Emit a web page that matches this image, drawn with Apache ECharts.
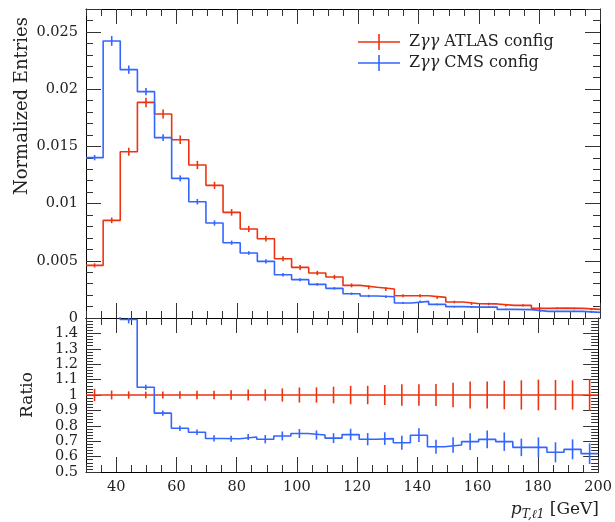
<!DOCTYPE html>
<html>
<head>
<meta charset="utf-8">
<title>pT l1</title>
<script src="https://cdn.jsdelivr.net/npm/echarts@6/dist/echarts.min.js"></script>
<style>
  html, body { margin: 0; padding: 0; background: #fff; }
  #main { width: 615px; height: 522px; }
</style>
</head>
<body>
<div id="main"></div>
<script>
// bin edges (30 bins, 30..200 GeV)
var binEdges = [30, 35.67, 41.33, 47, 52.67, 58.33, 64, 69.67, 75.33, 81, 86.67, 92.33, 98, 103.67, 109.33,
  115, 120.67, 126.33, 132, 137.67, 143.33, 149, 154.67, 160.33, 166, 171.67, 177.33, 183, 188.67, 194.33, 200];

// normalized entries per bin
var atlas = [0.0046, 0.00853, 0.01453, 0.01884, 0.01783, 0.01558, 0.01337, 0.01159, 0.00923, 0.00778,
  0.00693, 0.00518, 0.00442, 0.00393, 0.00358, 0.00285, 0.00268, 0.00253, 0.00195, 0.00195,
  0.0018, 0.0014, 0.00125, 0.00123, 0.0011, 0.0011, 0.00084, 0.00086, 0.00084, 0.00075];
var cms = [0.01401, 0.02421, 0.0217, 0.01978, 0.01576, 0.0122, 0.01016, 0.0083, 0.00658, 0.00568,
  0.00495, 0.00378, 0.00335, 0.00294, 0.00259, 0.00212, 0.00192, 0.00186, 0.00131, 0.00145,
  0.00119, 0.00099, 0.00095, 0.00095, 0.00075, 0.00073, 0.00058, 0.00058, 0.00058, 0.00049];

// ratio panel (reference = ATLAS)
var ratioAtlas = [1, 1, 1, 1, 1, 1, 1, 1, 1, 1, 1, 1, 1, 1, 1, 1, 1, 1, 1, 1, 1, 1, 1, 1, 1, 1, 1, 1, 1, 1];
var ratioAtlasErr = [0.04, 0.029, 0.024, 0.022, 0.022, 0.024, 0.027, 0.027, 0.031, 0.035,
  0.037, 0.043, 0.049, 0.05, 0.054, 0.06, 0.06, 0.065, 0.069, 0.069,
  0.072, 0.08, 0.087, 0.087, 0.093, 0.095, 0.1, 0.097, 0.095, 0.103];
var ratioCms = [3.04, 2.84, 1.49, 1.05, 0.882, 0.784, 0.758, 0.718, 0.716, 0.727,
  0.713, 0.734, 0.75, 0.74, 0.72, 0.743, 0.713, 0.717, 0.69, 0.739,
  0.664, 0.675, 0.697, 0.712, 0.697, 0.66, 0.66, 0.628, 0.647, 0.619];
var ratioCmsErr = [0.05, 0.05, 0.025, 0.017, 0.017, 0.017, 0.018, 0.02, 0.02, 0.02,
  0.027, 0.029, 0.029, 0.03, 0.032, 0.038, 0.04, 0.041, 0.046, 0.045,
  0.045, 0.05, 0.054, 0.057, 0.06, 0.057, 0.065, 0.065, 0.065, 0.067];

// tick labels
var xMajor = [40, 60, 80, 100, 120, 140, 160, 180, 200];
var yTopLabels = [0.005, 0.01, 0.015, 0.02, 0.025];
var yRatioLabels = [0.6, 0.7, 0.8, 0.9, 1, 1.1, 1.2, 1.3, 1.4];
// lowest label of each panel sits on the panel's bottom edge, echarts 6 drops it there,
// so it is placed by hand below at the pixel the axis gives for it
var yTopMin = 0, yRatioMin = 0.5;

var RED = '#EE3311', BLUE = '#3366FF';
var FONT = 'DejaVu Serif';
var TICK = '#333';
var LABEL = { fontFamily: FONT, fontSize: 14.5, color: '#222', margin: 8 };

var myChart = echarts.init(document.getElementById('main'));

function stepData(vals) {
  var d = vals.map(function (v, i) { return [binEdges[i], v]; });
  d.push([binEdges[binEdges.length - 1], vals[vals.length - 1]]);
  return d;
}

function stepLine(name, xi, yi, vals, color) {
  return {
    name: name, type: 'line', step: 'end', xAxisIndex: xi, yAxisIndex: yi,
    data: stepData(vals), showSymbol: false, symbol: 'none', clip: true, silent: true,
    color: color, itemStyle: { color: color },
    lineStyle: { color: color, width: 1.6 }
  };
}

function errBars(name, xi, yi, vals, errs, color) {
  return {
    name: name, type: 'custom', xAxisIndex: xi, yAxisIndex: yi, clip: true, silent: true,
    encode: { x: 0, y: 1 },
    data: vals.map(function (v, i) { return [(binEdges[i] + binEdges[i + 1]) / 2, v, errs[i]]; }),
    renderItem: function (params, api) {
      var lo = api.coord([api.value(0), api.value(1) - api.value(2)]);
      var hi = api.coord([api.value(0), api.value(1) + api.value(2)]);
      return {
        type: 'line',
        shape: { x1: lo[0], y1: lo[1], x2: hi[0], y2: hi[1] },
        style: { stroke: color, lineWidth: 1.6 }
      };
    }
  };
}

// x axes: bottom major, bottom minor, top major, top minor
function xAxesFor(gi, withLabels) {
  var base = { gridIndex: gi, type: 'value', min: 30, max: 200, splitLine: { show: false } };
  var line = { show: true, onZero: false, lineStyle: { color: '#000', width: 1 } };
  return [
    Object.assign({}, base, {
      position: 'bottom', axisLine: line,
      axisTick: { inside: true, length: 15, customValues: xMajor, lineStyle: { color: TICK } },
      axisLabel: withLabels ? Object.assign({ customValues: xMajor }, LABEL) : { show: false }
    }),
    Object.assign({}, base, {
      position: 'bottom', interval: 5, axisLine: { show: false, onZero: false },
      axisTick: { inside: true, length: 7, lineStyle: { color: TICK } }, axisLabel: { show: false }
    }),
    Object.assign({}, base, {
      position: 'top', axisLine: line,
      axisTick: { inside: true, length: 15, customValues: xMajor, lineStyle: { color: TICK } }, axisLabel: { show: false }
    }),
    Object.assign({}, base, {
      position: 'top', interval: 5, axisLine: { show: false, onZero: false },
      axisTick: { inside: true, length: 7, lineStyle: { color: TICK } }, axisLabel: { show: false }
    })
  ];
}

// y axes: left major, left minor, right major, right minor
function yAxesFor(gi, min, max, major, minor, labels) {
  var base = { gridIndex: gi, type: 'value', min: min, max: max, splitLine: { show: false } };
  var line = { show: true, onZero: false, lineStyle: { color: '#000', width: 1 } };
  return [
    Object.assign({}, base, {
      position: 'left', interval: major, axisLine: line,
      axisTick: { inside: true, length: 15, lineStyle: { color: TICK } },
      axisLabel: Object.assign({ customValues: labels }, LABEL)
    }),
    Object.assign({}, base, {
      position: 'left', interval: minor, axisLine: { show: false, onZero: false },
      axisTick: { inside: true, length: 7, lineStyle: { color: TICK } }, axisLabel: { show: false }
    }),
    Object.assign({}, base, {
      position: 'right', interval: major, axisLine: line,
      axisTick: { inside: true, length: 15, lineStyle: { color: TICK } }, axisLabel: { show: false }
    }),
    Object.assign({}, base, {
      position: 'right', interval: minor, axisLine: { show: false, onZero: false },
      axisTick: { inside: true, length: 7, lineStyle: { color: TICK } }, axisLabel: { show: false }
    })
  ];
}

var legendIcon = 'path://M0,7.2L42,7.2L42,8.8L0,8.8Z M20.2,0L21.8,0L21.8,16L20.2,16Z';

myChart.setOption({
  animation: false,
  backgroundColor: '#fff',
  grid: [
    { left: 86, top: 9, width: 514, height: 309 },
    { left: 86, top: 318, width: 514, height: 154 }
  ],
  xAxis: xAxesFor(0, false).concat(xAxesFor(1, true)),
  yAxis: yAxesFor(0, 0, 0.027, 0.005, 0.001, yTopLabels).concat(yAxesFor(1, 0.5, 1.5, 0.1, 0.02, yRatioLabels)),
  legend: {
    orient: 'vertical', left: 358, top: 34, padding: 0,
    itemWidth: 42, itemHeight: 16, itemGap: 5,
    icon: legendIcon,
    data: ['Zγγ ATLAS config', 'Zγγ CMS config'],
    formatter: function (n) { return n.replace('γγ', '{i|γγ}'); },
    textStyle: {
      fontFamily: FONT, fontSize: 16, lineHeight: 16, color: '#222', padding: [0, 0, 0, 4],
      rich: { i: { fontFamily: FONT, fontSize: 16, lineHeight: 16, fontStyle: 'italic', color: '#222' } }
    }
  },
  graphic: [
    {
      type: 'text', x: 22, y: 17, rotation: Math.PI / 2,
      style: { text: 'Normalized Entries', font: '18px "DejaVu Serif"', fill: '#222', align: 'right', verticalAlign: 'middle' }
    },
    {
      type: 'text', x: 28, y: 395, rotation: Math.PI / 2,
      style: { text: 'Ratio', font: '17px "DejaVu Serif"', fill: '#222', align: 'center', verticalAlign: 'middle' }
    },
    {
      type: 'text', x: 599, y: 510,
      style: {
        text: '{p|p}{s|T,ℓ1} [GeV]', font: '17px "DejaVu Serif"', fill: '#222',
        align: 'right', verticalAlign: 'middle',
        rich: {
          p: { font: 'italic 17px "DejaVu Serif"', fill: '#222', lineHeight: 22, verticalAlign: 'middle' },
          s: { font: 'italic 12px "DejaVu Serif"', fill: '#222', lineHeight: 22, verticalAlign: 'bottom' }
        }
      }
    }
  ],
  series: [
    stepLine('Zγγ ATLAS config', 0, 0, atlas, RED),
    stepLine('Zγγ CMS config', 0, 0, cms, BLUE),
    errBars('atlasErr', 0, 0, atlas, atlas.map(function (v, i) { return v * ratioAtlasErr[i]; }), RED),
    errBars('cmsErr', 0, 0, cms, cms.map(function (v, i) { return v * ratioCmsErr[i] / ratioCms[i]; }), BLUE),
    stepLine('ratioAtlas', 4, 4, ratioAtlas, RED),
    stepLine('ratioCms', 4, 4, ratioCms, BLUE),
    errBars('ratioAtlasErr', 4, 4, ratioAtlas, ratioAtlasErr, RED),
    errBars('ratioCmsErr', 4, 4, ratioCms, ratioCmsErr, BLUE)
  ]
});

// bottom labels of the two panels, positioned through the y axes
var labelX = myChart.convertToPixel({ xAxisIndex: 0 }, 30) - 8;
myChart.setOption({
  graphic: [
    {
      type: 'text', id: 'yTopMin', x: labelX, y: myChart.convertToPixel({ yAxisIndex: 0 }, yTopMin),
      style: { text: String(yTopMin), font: '14.5px "DejaVu Serif"', fill: '#222', align: 'right', verticalAlign: 'middle' }
    },
    {
      type: 'text', id: 'yRatioMin', x: labelX, y: myChart.convertToPixel({ yAxisIndex: 4 }, yRatioMin),
      style: { text: String(yRatioMin), font: '14.5px "DejaVu Serif"', fill: '#222', align: 'right', verticalAlign: 'middle' }
    }
  ]
});
</script>
</body>
</html>
